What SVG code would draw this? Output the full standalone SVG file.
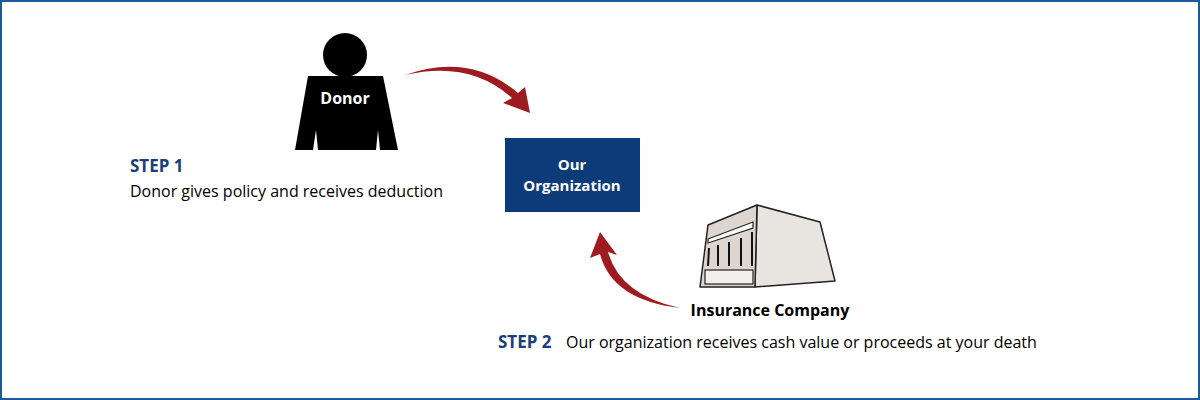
<svg xmlns="http://www.w3.org/2000/svg" width="1200" height="400" viewBox="0 0 1200 400">
<style>
text{font-family:"Open Sans","Liberation Sans",sans-serif}
.arr{fill:#9e1b20}
.step{fill:#1a3e7a;font-weight:bold;font-size:17px}
.body{fill:#000;font-size:16px}
.bld{stroke:#222;stroke-width:1.5;stroke-linejoin:round}
</style>
<rect x="1" y="1" width="1198" height="398" fill="#fff" stroke="#1d5a9a" stroke-width="2"/>
<g id="donor">
<circle cx="345" cy="55" r="22" fill="#000"/>
<path d="M308,76 L383,76 L398,150 L380,150 L378,130 L376,150 L318,150 L316,130 L313,150 L295,150 Z" fill="#000"/>
<text x="345" y="104" fill="#fff" font-size="16" font-weight="bold" text-anchor="middle">Donor</text>
</g>
<g id="org">
<rect x="505" y="138" width="135" height="74" fill="#0d3a78"/>
<text x="572" y="170" fill="#fff" font-size="15" font-weight="bold" text-anchor="middle">Our</text>
<text x="572" y="191" fill="#fff" font-size="15" font-weight="bold" text-anchor="middle">Organization</text>
</g>
<g id="insurance">
<path class="bld" d="M757,205 L820,222 L835,281 L755,287 Z" fill="#e8e4e0"/>
<path class="bld" d="M708,225 L757,205 L755,287 L700,287 Z" fill="#ddd6d0"/>
<path d="M708,239 L753,222 L753,228 L708,243 Z" fill="#fff" stroke="#222" stroke-width="1.2"/>
<g stroke="#111" stroke-width="2">
<line x1="709" y1="248" x2="708" y2="266"/><line x1="718" y1="245" x2="718" y2="266"/><line x1="729" y1="242" x2="729" y2="266"/><line x1="741" y1="238" x2="741" y2="266"/><line x1="752" y1="232" x2="752" y2="266"/>
</g>
<rect x="705" y="270" width="48" height="14" fill="#f2efec" stroke="#222" stroke-width="1.2"/>
<text x="770" y="316" class="body" font-weight="bold" text-anchor="middle">Insurance Company</text>
</g>
<g id="connectors">
<path class="arr" d="M405,75 Q470,60 512,98 L503,103 L530,113 L525,87 L518,93 Q470,52 405,75 Z"/>
<path class="arr" d="M680,308 Q620,295 608,252 L617,255 L600,232 L590,258 L600,254 Q612,300 680,308 Z"/>
</g>
<g id="labels">
<text x="130" y="172" class="step">STEP 1</text>
<text x="130" y="197" class="body">Donor gives policy and receives deduction</text>
<text x="498" y="348" class="step">STEP 2</text>
<text x="566" y="348" class="body">Our organization receives cash value or proceeds at your death</text>
</g>
</svg>
